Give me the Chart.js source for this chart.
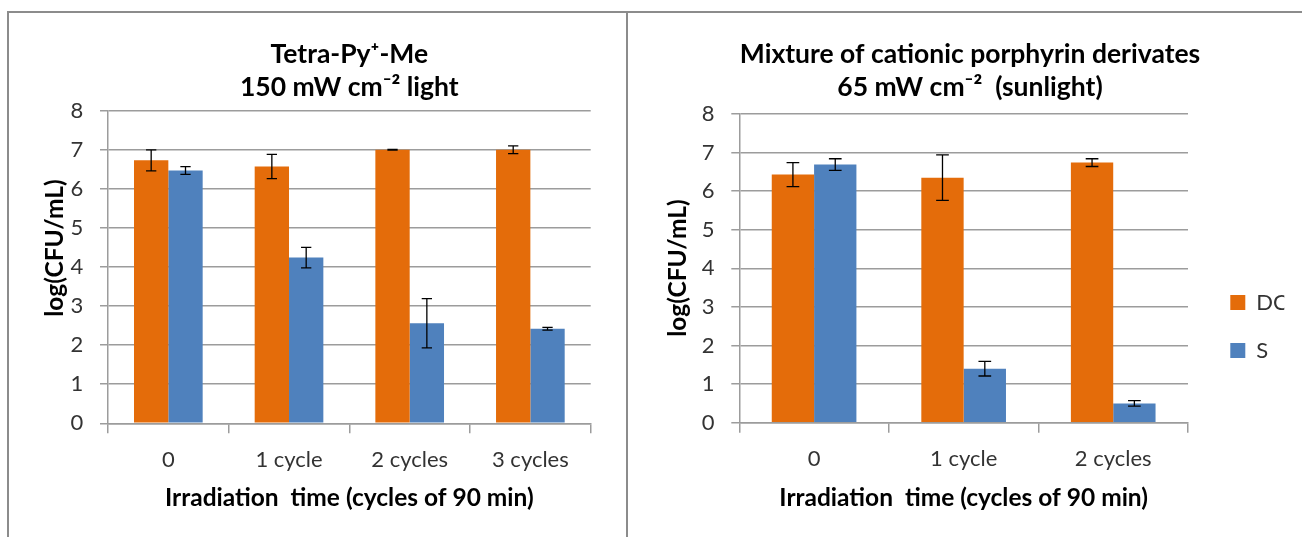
<!DOCTYPE html>
<html>
<head>
<meta charset="utf-8">
<script src="https://cdn.jsdelivr.net/npm/chart.js@4.4.1/dist/chart.umd.min.js"></script>
<style>
    html, body { margin: 0; padding: 0; background: #fff; overflow: hidden; }
    body { width: 1302px; height: 537px; position: relative; }
    .moldura { position: absolute; left: 7px; top: 11px; width: 1400px; height: 600px;
               border-left: 2px solid #8c8c8c; border-top: 2px solid #8c8c8c; }
    .divisor { position: absolute; left: 626px; top: 11px; width: 2px; height: 600px; background: #8c8c8c; }
    #boxA { position: absolute; left: 0; top: 0; width: 628px; height: 537px; }
    #boxB { position: absolute; left: 628px; top: 0; width: 674px; height: 537px; }
</style>
</head>
<body>
<div class="moldura"></div>
<div class="divisor"></div>
<div id="boxA"><canvas id="graficoA"></canvas></div>
<div id="boxB"><canvas id="graficoB"></canvas></div>
<script>
// ==========================================
// 1. DADOS
// ==========================================

const yTicks = [0, 1, 2, 3, 4, 5, 6, 7, 8];
const tituloX = "Irradiation  time (cycles of 90 min)";
const tituloY = "log(CFU/mL)";
const serieNomes = ["DC", "S"];

// Gráfico A - Tetra-Py+-Me
const tituloA = ["Tetra-Py⁺-Me", "150 mW cm⁻² light"];
const catsA = ["0", "1 cycle", "2 cycles", "3 cycles"];
const dcA = [6.73, 6.57, 7.0, 7.0];
const dcErrA = [0.27, 0.31, 0.01, 0.1];
const sA = [6.47, 4.24, 2.56, 2.42];
const sErrA = [0.1, 0.26, 0.63, 0.035];

// Gráfico B - mistura de porfirinas
const tituloB = ["Mixture of cationic porphyrin derivates", "65 mW cm⁻²  (sunlight)"];
const catsB = ["0", "1 cycle", "2 cycles"];
const dcB = [6.43, 6.35, 6.74];
const dcErrB = [0.31, 0.59, 0.1];
const sB = [6.69, 1.4, 0.5];
const sErrB = [0.15, 0.19, 0.07];

const FONTE = "Lato";
const LARANJA = "#E46C0A";
const AZUL = "#4F81BD";
const CINZA = "#9c9c9c";

// ==========================================
// 2. PLUGINS
// ==========================================

// barras de erro (desvio padrão)
const barrasErro = {
    id: "barrasErro",
    afterDatasetsDraw(chart) {
        const ctx = chart.ctx;
        const escalaY = chart.scales.y;
        ctx.save();
        ctx.strokeStyle = "#000";
        ctx.lineWidth = 1.3;
        chart.data.datasets.forEach((ds, i) => {
            chart.getDatasetMeta(i).data.forEach((barra, j) => {
                const e = ds.erros[j];
                const topo = escalaY.getPixelForValue(ds.data[j] + e);
                const base = escalaY.getPixelForValue(ds.data[j] - e);
                const meia = barra.width * 0.15;
                ctx.beginPath();
                ctx.moveTo(barra.x, topo);
                ctx.lineTo(barra.x, base);
                ctx.moveTo(barra.x - meia, topo);
                ctx.lineTo(barra.x + meia, topo);
                ctx.moveTo(barra.x - meia, base);
                ctx.lineTo(barra.x + meia, base);
                ctx.stroke();
            });
        });
        ctx.restore();
    },
};

// título do eixo Y em posição livre
const tituloEixoY = {
    id: "tituloEixoY",
    afterDraw(chart, args, opts) {
        const ctx = chart.ctx;
        ctx.save();
        ctx.translate(opts.x, opts.y);
        ctx.rotate(-Math.PI / 2);
        ctx.font = `bold 24.5px ${FONTE}`;
        ctx.fillStyle = "#000";
        ctx.textAlign = "center";
        ctx.textBaseline = "middle";
        ctx.fillText(tituloY, 0, 0);
        ctx.restore();
    },
};

// reposiciona a legenda depois do layout
const posLegenda = {
    id: "posLegenda",
    afterLayout(chart, args, opts) {
        const lg = chart.legend;
        if (!lg || opts.x === undefined) return;
        const w = lg.width;
        const h = lg.height;
        lg.left = opts.x;
        lg.right = opts.x + w;
        lg.top = opts.y;
        lg.bottom = opts.y + h;
    },
};

// ==========================================
// 3. CONSTRUÇÃO DOS GRÁFICOS
// ==========================================

function criarGrafico(idCanvas, cats, dc, dcErr, s, sErr, p) {
    const ctx = document.getElementById(idCanvas).getContext("2d");
    return new Chart(ctx, {
        type: "bar",
        data: {
            labels: cats,
            datasets: [
                { label: serieNomes[0], data: dc, erros: dcErr, backgroundColor: LARANJA, borderWidth: 0 },
                { label: serieNomes[1], data: s, erros: sErr, backgroundColor: AZUL, borderWidth: 0 },
            ],
        },
        options: {
            responsive: true,
            maintainAspectRatio: false,
            animation: false,
            layout: { padding: { left: p.padEsq, right: p.padDir, top: 0, bottom: 0 } },
            datasets: { bar: { categoryPercentage: p.catPct, barPercentage: 1 } },
            plugins: {
                title: {
                    display: true,
                    text: p.titulo,
                    fullSize: p.tituloCheio,
                    color: "#000",
                    font: { family: FONTE, size: 26.5, weight: "bold", lineHeight: "33px" },
                    padding: { top: 38, bottom: p.tituloBase },
                },
                legend: {
                    display: p.legenda,
                    position: "right",
                    align: "start",
                    maxWidth: 80,
                    labels: {
                        boxWidth: 15,
                        boxHeight: 15,
                        padding: 26,
                        color: "#333",
                        font: { family: FONTE, size: 22 },
                    },
                },
                tooltip: { enabled: false },
                tituloEixoY: { x: p.yTitX, y: p.yTitY },
                posLegenda: { x: p.legX, y: p.legY },
            },
            scales: {
                x: {
                    grid: { offset: true, drawOnChartArea: false, drawTicks: true, tickLength: 10, color: CINZA, lineWidth: 1.5 },
                    border: { color: CINZA, width: 1.5 },
                    ticks: { color: "#333", padding: 13.5, font: { family: FONTE, size: 22 } },
                    title: {
                        display: true,
                        text: tituloX,
                        color: "#000",
                        font: { family: FONTE, size: 24.5, weight: "bold" },
                        padding: { top: 0, bottom: 24 },
                    },
                    afterFit(escala) { escala.height = p.altX; },
                },
                y: {
                    min: 0,
                    max: 8,
                    afterBuildTicks(escala) { escala.ticks = yTicks.map((v) => ({ value: v })); },
                    ticks: { color: "#333", padding: 16.7, font: { family: FONTE, size: 22 } },
                    grid: { color: CINZA, lineWidth: 1.5, tickLength: 8 },
                    border: { color: CINZA, width: 1.5 },
                    afterFit(escala) { escala.width = p.largY; },
                },
            },
        },
        plugins: [barrasErro, tituloEixoY, posLegenda],
    });
}

criarGrafico("graficoA", catsA, dcA, dcErrA, sA, sErrA, {
    titulo: tituloA, tituloCheio: false, tituloBase: 6.7,
    padEsq: 0, padDir: 37.3, largY: 108, altX: 113.7, catPct: 0.569,
    legenda: false, yTitX: 55, yTitY: 248,
});

criarGrafico("graficoB", catsB, dcB, dcErrB, sB, sErrB, {
    titulo: tituloB, tituloCheio: true, tituloBase: 10,
    padEsq: 44, padDir: 34, largY: 67.3, altX: 114.3, catPct: 0.566,
    legenda: true, legX: 576.3, legY: 265.5, yTitX: 50, yTitY: 268,
});
</script>
</body>
</html>
